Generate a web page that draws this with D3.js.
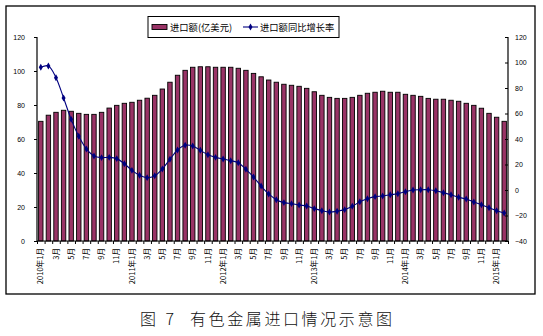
<!DOCTYPE html>
<html><head><meta charset="utf-8">
<script src="https://cdn.jsdelivr.net/npm/d3@7/dist/d3.min.js"></script>
<style>
body{margin:0;background:#fff;}
svg{display:block;}
</style></head>
<body>
<svg id="c" width="543" height="336"></svg>
<script>
// ---- data ----
const months = [];
for (let y = 2010; y <= 2015; y++) for (let m = 1; m <= 12; m++) { if (y === 2015 && m > 2) break; months.push(y + "-" + m); }
const monthLabels = months.map(d => { const [y, m] = d.split("-"); return m === "1" ? y + "年1月" : (m % 2 === 1 ? m + "月" : ""); });
const importValue = [70.4, 74.0, 75.7, 76.9, 76.3, 75.1, 74.5, 74.5, 75.7, 78.2, 79.8, 81.0, 81.6, 82.8, 84.0, 85.7,
  89.4, 93.4, 97.5, 100.4, 102.2, 102.5, 102.5, 102.2, 102.2, 102.2, 101.6, 100.4, 98.6, 96.6, 94.7,
  93.4, 92.2, 91.6, 91.0, 89.8, 87.8, 85.7, 84.5, 83.9, 83.9, 84.5, 85.7, 86.9, 87.5, 88.1,
  87.5, 87.5, 86.3, 85.7, 85.1, 83.9, 83.4, 83.4, 82.8, 82.2, 81.0, 79.8, 78.1, 75.1, 72.8, 70.4];
const yoyGrowth = [96.2, 97.3, 88.1, 72.2, 55.4, 42.1, 32.2, 26.7, 25.4, 25.6, 24.6, 20.6, 15.4, 11.5, 9.7, 11.2,
  16.5, 24.1, 31.4, 35.1, 34.5, 31.1, 27.7, 25.6, 24.3, 23.0, 21.4, 16.2, 10.2, 3.1, -3.1,
  -7.6, -9.9, -10.7, -11.8, -12.5, -14.6, -16.2, -17.3, -16.7, -15.4, -12.8, -9.2, -6.8, -5.2, -4.7,
  -3.7, -2.9, -1.3, 0, 0.2, 0.2, -0.6, -2.1, -3.7, -5.7, -7.1, -9.4, -11.5, -13.9, -16.2, -18];
const leftTicks = [0, 20, 40, 60, 80, 100, 120];
const rightTicks = [-40, -20, 0, 20, 40, 60, 80, 100, 120];
const seriesNames = ["进口额(亿美元)", "进口额同比增长率"];
const titleNo = "图 7";
const titleText = "有色金属进口情况示意图";

// ---- layout ----
const svg = d3.select("#c");
const L = 37, R = 508, T = 37, B = 241;
const x = d3.scaleBand().domain(months).range([L, R]).paddingInner(0.42).paddingOuter(0.21);
const xb = d3.scaleLinear().domain([0, months.length]).range([L, R]);
const yL = d3.scaleLinear().domain([0, 120]).range([B, T]);
const yR = d3.scaleLinear().domain([-40, 120]).range([B, T]);

svg.append("rect").attr("x", 6).attr("y", 6).attr("width", 529).attr("height", 288)
  .attr("fill", "none").attr("stroke", "#000").attr("stroke-width", 1.3);

// bars
svg.append("g").selectAll("rect").data(importValue).join("rect")
  .attr("x", (d, i) => x(months[i])).attr("width", x.bandwidth())
  .attr("y", d => yL(d)).attr("height", d => B - yL(d))
  .attr("fill", "#993366").attr("stroke", "#000").attr("stroke-width", 0.9);

const fontAx = "Liberation Sans, Arial, sans-serif";
// left axis
const ga = svg.append("g").attr("transform", `translate(${L},0)`)
  .call(d3.axisLeft(yL).tickValues(leftTicks).tickSize(3).tickPadding(9));
// right axis
const gr = svg.append("g").attr("transform", `translate(${R},0)`)
  .call(d3.axisRight(yR).tickValues(rightTicks).tickSize(-3).tickPadding(7));
// bottom ticks
const gb = svg.append("g").attr("transform", `translate(0,${B})`)
  .call(d3.axisBottom(xb).tickValues(d3.range(months.length + 1)).tickSize(3).tickFormat(""));
// bottom labels
const gl = svg.append("g").attr("transform", `translate(0,${B})`)
  .call(d3.axisBottom(x).tickSize(0).tickFormat((d, i) => monthLabels[i]));
gl.select(".domain").remove();
gl.selectAll("text").attr("transform", "rotate(-90)").attr("text-anchor", "end")
  .attr("x", -7).attr("y", 0).attr("dy", "0.35em")
  .style("font-family", "Noto Sans CJK SC, sans-serif").style("font-size", "7.6px");

[ga, gr, gb].forEach(g => { g.selectAll("path.domain").attr("stroke", "#000").attr("stroke-width", 1.2); g.selectAll("line").attr("stroke", "#000"); });
[ga, gr].forEach(g => g.selectAll("text").style("font-family", fontAx).style("font-size", "7px").attr("fill", "#000"));
ga.select(".domain").attr("d", `M0,${B}V${T}`);
gr.select(".domain").attr("d", `M0,${B}V${T}`);
gb.select(".domain").attr("d", `M${L},0H${R}`);

// line
const cx = (d, i) => x(months[i]) + x.bandwidth() / 2;
svg.append("path").datum(yoyGrowth)
  .attr("d", d3.line().x(cx).y(d => yR(d)).curve(d3.curveCatmullRom))
  .attr("fill", "none").attr("stroke", "#000080").attr("stroke-width", 1.1);
svg.append("g").selectAll("path").data(yoyGrowth).join("path")
  .attr("transform", (d, i) => `translate(${cx(d, i)},${yR(d)})`)
  .attr("d", d3.symbol(d3.symbolDiamond, 14)).attr("fill", "#000080");

// legend
const lg = svg.append("g");
lg.append("rect").attr("x", 148).attr("y", 16.5).attr("width", 191).attr("height", 21)
  .attr("fill", "#fff").attr("stroke", "#000").attr("stroke-width", 1);
lg.append("rect").attr("x", 152).attr("y", 24.5).attr("width", 15).attr("height", 5)
  .attr("fill", "#993366").attr("stroke", "#000").attr("stroke-width", 0.9);
lg.append("text").attr("x", 170).attr("y", 30.5).text(seriesNames[0])
  .style("font-family", "Noto Sans CJK SC, sans-serif").style("font-size", "9.3px");
lg.append("line").attr("x1", 243).attr("x2", 258).attr("y1", 27).attr("y2", 27)
  .attr("stroke", "#000080").attr("stroke-width", 1.1);
lg.append("path").attr("transform", "translate(250.5,27)").attr("d", d3.symbol(d3.symbolDiamond, 14)).attr("fill", "#000080");
lg.append("text").attr("x", 260).attr("y", 30.5).text(seriesNames[1])
  .style("font-family", "Noto Sans CJK SC, sans-serif").style("font-size", "9.3px");

// title
const tStyle = s => s.style("font-family", "Noto Sans CJK SC, sans-serif").style("font-size", "16px")
  .style("font-weight", 300).attr("fill", "#111");
svg.append("text").attr("x", 140).attr("y", 325).text(titleNo).call(tStyle).style("letter-spacing", "3px");
svg.append("text").attr("x", 190).attr("y", 325).text(titleText).call(tStyle).style("letter-spacing", "2.6px");
</script>
</body></html>
